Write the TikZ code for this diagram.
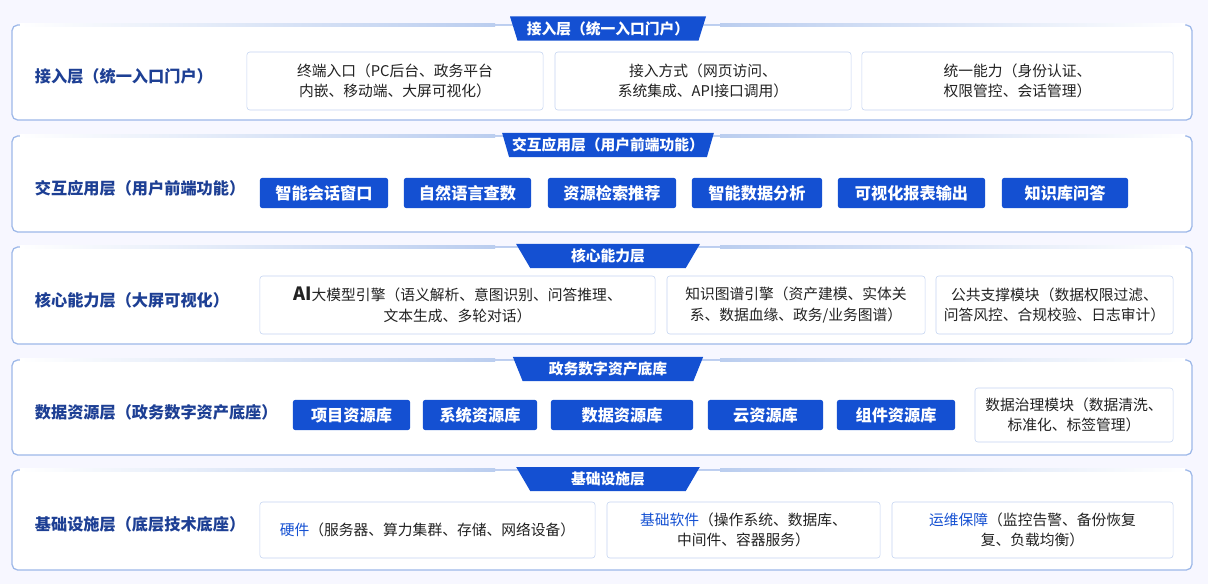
\documentclass[tikz,border=0pt]{standalone}
\usepackage{fontspec}
\setmainfont{Noto Sans CJK SC}
\usetikzlibrary{shapes.geometric}
\definecolor{navy}{HTML}{1D3F94}
\definecolor{btn}{HTML}{1450D2}
\definecolor{edge}{HTML}{9DB8E8}
\definecolor{txt}{HTML}{222222}
\tikzset{
  layer/.style={draw=edge, line width=0.9pt, rounded corners=4pt, fill=white},
  tab/.style={trapezium, shape border rotate=180, trapezium angle=65, trapezium stretches=true,
    fill=btn, text=white, font=\bfseries\fontsize{10.5}{12}\selectfont, minimum width=4.9cm, minimum height=0.6cm, inner sep=0pt},
  lbl/.style={anchor=west, text=navy, font=\bfseries\fontsize{11.5}{13}\selectfont},
  box/.style={draw=edge!60, rounded corners=2pt, fill=white, align=center, text=txt,
    font=\fontsize{10.5}{14.5}\selectfont, minimum height=1.45cm, inner sep=2pt},
  btnbox/.style={fill=btn, rounded corners=1.5pt, text=white, font=\bfseries\fontsize{11.5}{13}\selectfont,
    minimum height=0.75cm, inner sep=0pt},
  hl/.style={text=btn}
}
\begin{document}
\begin{tikzpicture}[x=0.025cm, y=-0.025cm]
\useasboundingbox (0,0) rectangle (1208,584);
\fill[blue!3] (0,0) rectangle (1208,584);

% layers
\foreach \ya/\yb in {25/120, 136/232, 247/344, 360/455, 470/570}{
  \draw[layer] (12,\ya) rectangle (1192,\yb);
  \shade[left color=white, right color=edge!70] (20,\ya-1.5) rectangle (495,\ya+1.5);
  \shade[left color=edge!70, right color=white] (720,\ya-1.5) rectangle (1185,\ya+1.5);
}

% access layer
\node[tab] (t1) at (608,28.5) {接入层（统一入口门户）};
\node[lbl] (l1) at (30,76) {接入层（统一入口门户）};
\node[box, minimum width=7.4cm] (b11) at (395,81) {终端入口（PC后台、政务平台\\内嵌、移动端、大屏可视化）};
\node[box, minimum width=7.4cm] (b12) at (703,81) {接入方式（网页访问、\\系统集成、API接口调用）};
\node[box, minimum width=7.78cm] (b13) at (1017.5,81) {统一能力（身份认证、\\权限管控、会话管理）};

% interaction layer
\node[tab, minimum width=5.3cm] (t2) at (608,145) {交互应用层（用户前端功能）};
\node[lbl] (l2) at (30,188) {交互应用层（用户前端功能）};
\node[btnbox, minimum width=3.2cm] (b21) at (324,193) {智能会话窗口};
\node[btnbox, minimum width=3.175cm] (b22) at (467.5,193) {自然语言查数};
\node[btnbox, minimum width=3.2cm] (b23) at (612,193) {资源检索推荐};
\node[btnbox, minimum width=3.25cm] (b24) at (757,193) {智能数据分析};
\node[btnbox, minimum width=3.675cm] (b25) at (911.5,193) {可视化报表输出};
\node[btnbox, minimum width=3.15cm] (b26) at (1065,193) {知识库问答};

% core layer
\node[tab, minimum width=4.6cm] (t3) at (608,256) {核心能力层};
\node[lbl] (l3) at (30,300) {核心能力层（大屏可视化）};
\node[box, minimum width=9.875cm] (b31) at (457.5,305) {{\bfseries\fontsize{13}{14}\selectfont AI}大模型引擎（语义解析、意图识别、问答推理、\\文本生成、多轮对话）};
\node[box, minimum width=6.45cm] (b32) at (796,305) {知识图谱引擎（资产建模、实体关\\系、数据血缘、政务/业务图谱）};
\node[box, minimum width=5.925cm] (b33) at (1054.5,305) {公共支撑模块（数据权限过滤、\\问答风控、合规校验、日志审计）};

% data layer
\node[tab, minimum width=4.8cm] (t4) at (608,369) {政务数字资产底库};
\node[lbl] (l4) at (30,412) {数据资源层（政务数字资产底座）};
\node[btnbox, minimum width=2.925cm] (b41) at (351.5,415) {项目资源库};
\node[btnbox, minimum width=2.85cm] (b42) at (480,415) {系统资源库};
\node[btnbox, minimum width=3.55cm] (b43) at (622,415) {数据资源库};
\node[btnbox, minimum width=2.875cm] (b44) at (765.5,415) {云资源库};
\node[btnbox, minimum width=2.95cm] (b45) at (896,415) {组件资源库};
\node[box, minimum width=4.95cm, minimum height=1.35cm] (b46) at (1074,415) {数据治理模块（数据清洗、\\标准化、标签管理）};

% infrastructure layer
\node[tab, minimum width=4.6cm] (t5) at (608,479) {基础设施层};
\node[lbl] (l5) at (30,524) {基础设施层（底层技术底座）};
\node[box, minimum width=8.375cm, minimum height=1.4cm] (b51) at (427.5,530) {\textcolor{btn}{硬件}（服务器、算力集群、存储、网络设备）};
\node[box, minimum width=6.825cm, minimum height=1.4cm] (b52) at (743.5,530) {\textcolor{btn}{基础软件}（操作系统、数据库、\\中间件、容器服务）};
\node[box, minimum width=7.025cm, minimum height=1.4cm] (b53) at (1032.5,530) {\textcolor{btn}{运维保障}（监控告警、备份恢复\\复、负载均衡）};
\end{tikzpicture}
\end{document}
